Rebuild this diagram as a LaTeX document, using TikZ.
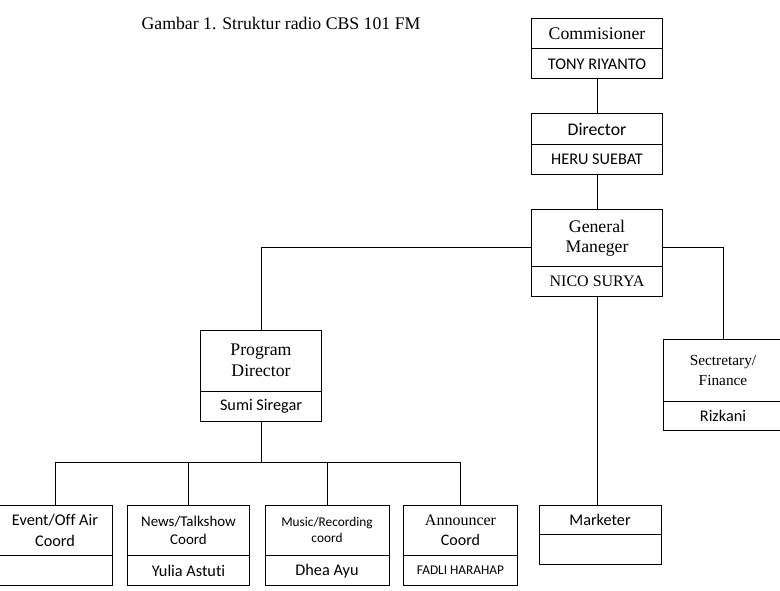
\documentclass[tikz,border=0pt]{standalone}
\usepackage{fontspec}
\setmainfont{Liberation Serif}
\newfontfamily\carlito[Ligatures=NoCommon]{Carlito}
\usetikzlibrary{positioning}

\begin{document}
\begin{tikzpicture}[
  x=0.75pt, y=-0.75pt,
  every node/.style = {outer sep=0pt},
  role/.style = {draw, line width=0.75pt, align=center, anchor=north, inner sep=1pt, font=\fontsize{13.3}{15}\selectfont},
  holder/.style = {draw, line width=0.75pt, align=center, inner sep=1pt, minimum height=22.5pt, font=\carlito\fontsize{12.2}{14.5}\selectfont},
  sans/.style = {font=\carlito\fontsize{12.2}{15.5}\selectfont},
  link/.style = {line width=0.75pt}
]
  \useasboundingbox (0,0) rectangle (780,591);

  \node[font=\fontsize{13.3}{15}\selectfont] (title) at (281,23) {Gambar 1. Struktur radio CBS 101 FM};

  % top chain
  \node[role, minimum width=98pt, minimum height=22.5pt] (com) at (597,19) {Commisioner};
  \node[holder, minimum width=98pt, below=0pt of com] (comn) {TONY RIYANTO};
  \node[role, minimum width=98pt, minimum height=23pt, font=\carlito\fontsize{13.3}{15}\selectfont] (dir) at (597,114) {Director};
  \node[holder, minimum width=98pt, below=0pt of dir] (dirn) {HERU SUEBAT};
  \node[role, minimum width=98pt, minimum height=42pt] (gm) at (597,210) {General\\Maneger};
  \node[holder, minimum width=98pt, below=0pt of gm, font=\fontsize{12}{14}\selectfont] (gmn) {NICO SURYA};

  \node[role, minimum width=91pt, minimum height=46pt, font=\fontsize{13.3}{15.75}\selectfont] (pd) at (261,330) {Program\\Director};
  \node[holder, minimum width=91pt, below=0pt of pd] (pdn) {Sumi Siregar};
  \node[role, minimum width=90pt, minimum height=46.5pt, font=\fontsize{11.5}{15}\selectfont] (sec) at (723,339) {Sectretary/\\Finance};
  \node[holder, minimum width=90pt, minimum height=22pt, below=0pt of sec] (secn) {Rizkani};

  % bottom row
  \node[role, sans, minimum width=86pt, minimum height=38pt] (event) at (55,505) {Event/Off Air\\Coord};
  \node[holder, minimum width=86pt, below=0pt of event] (eventn) {};
  \node[role, minimum width=91pt, minimum height=38pt, font=\carlito\fontsize{11.2}{14}\selectfont] (news) at (188.5,505) {News/Talkshow\\Coord};
  \node[holder, minimum width=91pt, below=0pt of news] (newsn) {Yulia Astuti};
  \node[role, minimum width=93pt, minimum height=38pt, font=\carlito\fontsize{10}{12}\selectfont] (music) at (327,505) {Music/Recording\\coord};
  \node[holder, minimum width=93pt, below=0pt of music] (musicn) {Dhea Ayu};
  \node[role, minimum width=86pt, minimum height=38pt, font=\fontsize{12}{15.5}\selectfont] (ann) at (460.5,505) {Announcer\\{\carlito Coord}};
  \node[holder, minimum width=86pt, below=0pt of ann, font=\carlito\fontsize{10}{12}\selectfont] (annn) {FADLI HARAHAP};
  \node[role, sans, minimum width=91.5pt, minimum height=22pt] (mark) at (600,505) {Marketer};
  \node[holder, minimum width=91.5pt, below=0pt of mark] (markn) {};

  % connectors
  \draw[link] (comn.south) -- (dir.north);
  \draw[link] (dirn.south) -- (gm.north);
  \draw[link] ([yshift=-7.5pt]gm.west) -| (pd.north);
  \draw[link] ([yshift=-7.5pt]gm.east) -| (sec.north);
  \draw[link] (gmn.south) -- (gmn.south |- mark.north);

  \coordinate (bus) at (259,462);
  \draw[link] (pdn.south) -- (pdn.south |- bus);
  \draw[link] (event.north) |- (ann.north |- bus) -- (ann.north);
  \draw[link] (news.north) -- (news.north |- bus);
  \draw[link] (music.north) -- (music.north |- bus);
\end{tikzpicture}
\end{document}
